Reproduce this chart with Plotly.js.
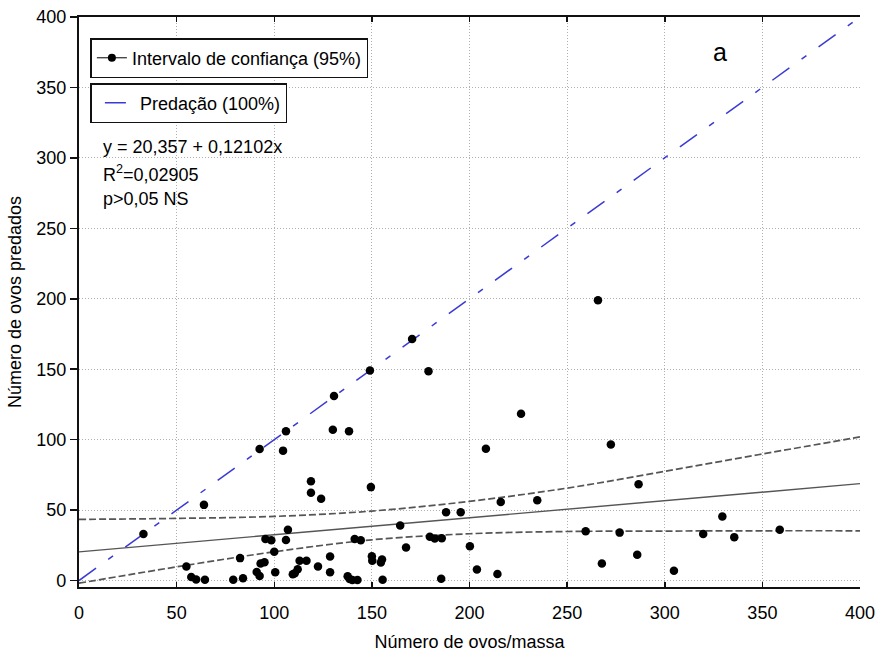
<!DOCTYPE html>
<html>
<head>
<meta charset="utf-8">
<script src="https://cdn.plot.ly/plotly-3.0.1.min.js"></script>
<style>
  html, body { margin: 0; padding: 0; background: #ffffff; }
  #chart { width: 878px; height: 655px; }
</style>
</head>
<body>
<div id="chart"></div>
<script>
// Egg masses: number of eggs per mass (x) and number of eggs preyed (y)
const ovosPorMassa = [
  33, 55, 57.5, 60, 64.5, 64, 79, 84, 82.5, 91, 92.5, 93, 95, 95.5, 98.5, 100, 100.5,
  92.5, 104.5, 106, 107, 106, 109.5, 110.5, 112, 113, 116.5, 118.8, 118.8, 124, 122.4,
  128.6, 128.6, 130, 130.6, 138.3, 137.6, 138.6, 140, 142.6, 141.2, 144.3, 149, 149.5,
  150, 150.2, 155.2, 154.6, 155.5, 164.5, 167.5, 170.6, 179, 179.7, 182.2, 185.8, 185.5,
  188, 195.5, 200.2, 203.8, 208.4, 214.3, 216, 226.4, 234.7, 259.5, 267.8, 272.4, 276.9,
  285.9, 286.6, 265.8, 304.7, 319.7, 329.5, 335.6, 358.9
];
const ovosPredados = [
  33, 10, 2.5, 0.7, 0.6, 53.7, 0.6, 1.6, 15.9, 6, 3.2, 12, 13, 29.4, 28.6, 20.4, 5.8,
  93.4, 92.2, 106, 36, 28.7, 4.5, 5.2, 8, 14, 14, 70.5, 62.3, 58, 9.9,
  17, 5.8, 107, 131, 106, 3, 1.1, 0.3, 0.4, 29.4, 28.6, 149, 66.3,
  17.2, 14, 15, 12.8, 0.5, 39, 23.5, 171.4, 148.6, 31, 29.8, 30, 1.3,
  48.4, 48.4, 24.4, 7.8, 93.5, 4.6, 55.8, 118.4, 56.9, 35, 12, 96.5, 34,
  18.3, 68.4, 199, 6.9, 33, 45.4, 30.8, 36.1
];

// Fitted regression: y = 20,357 + 0,12102x
const fitIntercept = 20.357;
const fitSlope = 0.12102;
const fitX = [0, 400];

// 95% confidence band around the fit
const bandX = [0, 50, 100, 150, 200, 250, 300, 350, 400];
const bandUpper = [43.4, 44.1, 45.5, 49.3, 56.2, 65.6, 77.5, 89.8, 101.9];
const bandLower = [-1.9, 9.7, 20.4, 28.9, 33.2, 34.8, 35.1, 35.3, 35.3];

// 100% predation reference line (all eggs of the mass preyed)
const predX = [0, 400];
const predY = [0, 400];

// Axis ticks
const tickVals = [0, 50, 100, 150, 200, 250, 300, 350, 400];

const FONT = 'Liberation Sans, Arial, Helvetica, sans-serif';
const FS = 18;
const INK = '#111111';

const fitY = fitX.map(x => fitIntercept + fitSlope * x);

const traces = [
  {
    x: predX, y: predY, type: 'scatter', mode: 'lines',
    name: 'Predação (100%)', legend: 'legend2',
    line: { color: 'rgb(58,58,212)', width: 1.5, dash: '21px,15px,6px,15px' },
    hoverinfo: 'skip'
  },
  {
    x: bandX, y: bandUpper, type: 'scatter', mode: 'lines',
    line: { color: '#555555', width: 1.7, dash: '7px,3px', shape: 'spline' },
    showlegend: false, hoverinfo: 'skip'
  },
  {
    x: bandX, y: bandLower, type: 'scatter', mode: 'lines',
    line: { color: '#555555', width: 1.7, dash: '7px,3px', shape: 'spline' },
    showlegend: false, hoverinfo: 'skip'
  },
  {
    x: fitX, y: fitY, type: 'scatter', mode: 'lines',
    line: { color: '#555555', width: 1.4 },
    showlegend: false, hoverinfo: 'skip'
  },
  {
    x: ovosPorMassa, y: ovosPredados, type: 'scatter', mode: 'markers',
    marker: { color: '#000000', size: 8.5 },
    showlegend: false
  },
  {
    // legend-only entry for the fit / confidence interval
    x: [null], y: [null], type: 'scatter', mode: 'lines+markers',
    name: 'Intervalo de confiança (95%)', legend: 'legend',
    line: { color: '#000000', width: 1 },
    marker: { color: '#000000', size: 8 }
  }
];

const axisCommon = {
  range: [0, 400],
  tickvals: tickVals,
  showline: true, linecolor: INK, linewidth: 2.2,
  zeroline: false,
  showgrid: true, gridcolor: '#b0b0b0', griddash: '1px,2px', gridwidth: 1,
  tickcolor: INK, tickwidth: 1.5,
  tickfont: { family: FONT, size: FS, color: '#000' }
};

const layout = {
  width: 878, height: 655,
  paper_bgcolor: '#ffffff', plot_bgcolor: '#ffffff',
  margin: { l: 79, r: 18, t: 17, b: 68 },
  font: { family: FONT, size: FS, color: '#000' },
  xaxis: Object.assign({}, axisCommon, {
    ticks: 'inside', ticklen: 5, mirror: 'ticks',
    ticklabelstandoff: 8,
    title: { text: 'Número de ovos/massa', font: { family: FONT, size: FS }, standoff: 14 }
  }),
  yaxis: Object.assign({}, axisCommon, {
    range: [-4.6, 400],
    ticks: 'outside', ticklen: 7,
    title: { text: 'Número de ovos predados', font: { family: FONT, size: FS }, standoff: 10 }
  }),
  yaxis2: {
    overlaying: 'y', side: 'right', anchor: 'x',
    range: [-4.6, 400], tickvals: tickVals,
    ticks: 'inside', ticklen: 5, tickcolor: INK, tickwidth: 1.5,
    showticklabels: false, showgrid: false, zeroline: false,
    showline: true, linecolor: INK, linewidth: 2.2
  },
  legend: {
    x: 0.0146, y: 0.963, xanchor: 'left', yanchor: 'top',
    bgcolor: '#ffffff', bordercolor: INK, borderwidth: 1.5,
    font: { family: FONT, size: FS, color: '#000' }
  },
  legend2: {
    x: 0.0146, y: 0.884, xanchor: 'left', yanchor: 'top',
    bgcolor: '#ffffff', bordercolor: INK, borderwidth: 1.5,
    indentation: 8,
    font: { family: FONT, size: FS, color: '#000' }
  },
  annotations: [
    { xref: 'paper', yref: 'paper', x: 0.028, y: 0.772, xanchor: 'left', yanchor: 'middle',
      text: 'y = 20,357 + 0,12102x', showarrow: false, font: { family: FONT, size: FS } },
    { xref: 'paper', yref: 'paper', x: 0.028, y: 0.726, xanchor: 'left', yanchor: 'middle',
      text: 'R<sup>2</sup>=0,02905', showarrow: false, font: { family: FONT, size: FS } },
    { xref: 'paper', yref: 'paper', x: 0.028, y: 0.681, xanchor: 'left', yanchor: 'middle',
      text: 'p>0,05 NS', showarrow: false, font: { family: FONT, size: FS } },
    { xref: 'paper', yref: 'paper', x: 0.8207, y: 0.939, xanchor: 'center', yanchor: 'middle',
      text: 'a', showarrow: false, font: { family: FONT, size: 25 } }
  ]
};

Plotly.newPlot('chart', traces, layout, { displayModeBar: false, staticPlot: true });
</script>
</body>
</html>
